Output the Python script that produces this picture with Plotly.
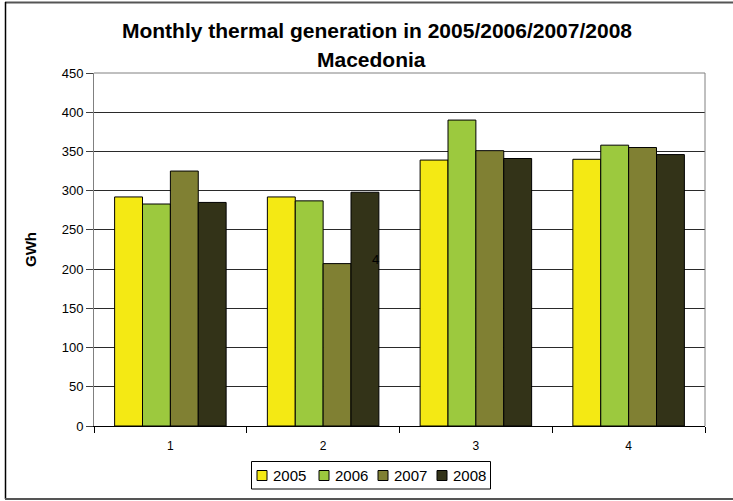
import plotly.graph_objects as go

months = ["1", "2", "3", "4"]
years = ["2005", "2006", "2007", "2008"]
gen_2005 = [292, 292, 339, 340]
gen_2006 = [283, 287, 390, 358]
gen_2007 = [325, 207, 351, 355]
gen_2008 = [285, 298, 341, 346]
series = [gen_2005, gen_2006, gen_2007, gen_2008]
colors = ["#F4E914", "#9CC93E", "#808033", "#333318"]

# plot area in pixels (733x501 page)
L, R, T, B = 94, 705, 73, 426


def px(x):
    return (x - L) / (R - L)


def py(y):
    return (B - y) / (B - T)


fig = go.Figure()
for yr, vals, col in zip(years, series, colors):
    fig.add_trace(go.Bar(
        x=months, y=vals, name=yr,
        marker=dict(color=col, line=dict(color="#000000", width=1)),
    ))

# outer chart frame + plot area top/right border
shapes = [
    dict(type="line", xref="paper", yref="paper", x0=0, x1=1, y0=1, y1=1,
         line=dict(color="#808080", width=1)),
    dict(type="line", xref="paper", yref="paper", x0=1, x1=1, y0=0, y1=1,
         line=dict(color="#808080", width=1)),
    dict(type="line", xref="paper", yref="paper", x0=px(5), x1=px(733), y0=py(2.5), y1=py(2.5),
         line=dict(color="#555555", width=2)),
    dict(type="line", xref="paper", yref="paper", x0=px(5.5), x1=px(5.5), y0=py(2), y1=py(499),
         line=dict(color="#000000", width=1.5)),
    dict(type="line", xref="paper", yref="paper", x0=px(5), x1=px(733), y0=py(499), y1=py(499),
         line=dict(color="#555555", width=2)),
    # legend box
    dict(type="rect", xref="paper", yref="paper", x0=px(251.5), x1=px(490.5),
         y0=py(489), y1=py(461.5), line=dict(color="#000000", width=1)),
]
annotations = [
    dict(text="4", x=1.34, y=212, xref="x", yref="y", showarrow=False,
         font=dict(size=13, color="#000000")),
    dict(text="<b>Macedonia</b>", xref="paper", yref="paper", x=px(371.5), y=py(60),
         xanchor="center", yanchor="middle", showarrow=False,
         font=dict(size=21, color="#000000")),
]

# custom legend entries
leg_x = [257, 319, 378, 437]
for yr, col, lx in zip(years, colors, leg_x):
    shapes.append(dict(type="rect", xref="paper", yref="paper",
                       x0=px(lx), x1=px(lx + 10), y0=py(480.5), y1=py(470.5),
                       fillcolor=col, line=dict(color="#000000", width=1)))
    annotations.append(dict(text=yr, xref="paper", yref="paper", x=px(lx + 14), y=py(475.5),
                            xanchor="left", yanchor="middle", showarrow=False,
                            font=dict(size=15, color="#000000")))

fig.update_layout(
    width=733, height=501,
    barmode="group", bargap=0.27, bargroupgap=0,
    paper_bgcolor="white", plot_bgcolor="white",
    margin=dict(l=L, r=733 - R, t=T, b=501 - B),
    font=dict(family="Liberation Sans, Arial", color="#000000"),
    title=dict(text="<b>Monthly thermal generation in 2005/2006/2007/2008</b>",
               font=dict(size=21, color="#000000"), x=377 / 733, xanchor="center",
               xref="container", y=1 - 30.5 / 501, yanchor="middle", yref="container"),
    xaxis=dict(type="category", tickson="boundaries", ticks="outside", ticklen=6,
               tickcolor="#000000", showline=True, linecolor="#000000", linewidth=1,
               ticklabelstandoff=9, tickfont=dict(size=12, color="#000000")),
    yaxis=dict(range=[0, 450], dtick=50, ticks="outside", ticklen=7,
               tickcolor="#404040", showline=True, linecolor="#808080", linewidth=1,
               showgrid=True, gridcolor="#2a2a2a", gridwidth=1,
               tickfont=dict(size=13, color="#000000"),
               title=dict(text="<b>GWh</b>", font=dict(size=15), standoff=21)),
    showlegend=False,
    shapes=shapes,
    annotations=annotations,
)

fig.write_html("out.html", config={"displayModeBar": False},
               post_script="document.body.style.margin='0';")
